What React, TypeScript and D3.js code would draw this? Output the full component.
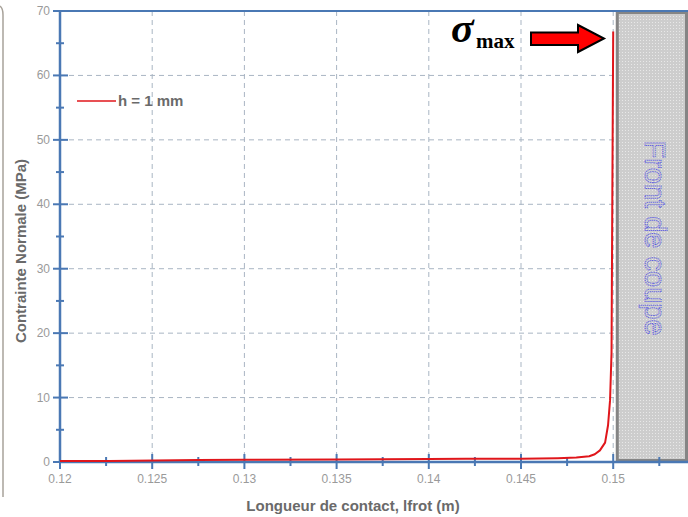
import React from "react";
import * as d3 from "d3";

const xMajorTicks = [0.12, 0.125, 0.13, 0.135, 0.14, 0.145, 0.15];
const xTickLabels = ["0.12", "0.125", "0.13", "0.135", "0.14", "0.145", "0.15"];
const xMinorTicks = [0.1225, 0.1275, 0.1325, 0.1375, 0.1425, 0.1475, 0.1525];
const yMajorTicks = [0, 10, 20, 30, 40, 50, 60, 70];
const yMinorTicks = [5, 15, 25, 35, 45, 55, 65];

const contactX = [0.12, 0.1227, 0.1275, 0.13, 0.135, 0.14, 0.142, 0.145, 0.147, 0.148, 0.1487, 0.149, 0.14928, 0.14956, 0.14972, 0.14983, 0.14991, 0.14995, 0.15];
const stressY = [0.15, 0.15, 0.3, 0.35, 0.4, 0.45, 0.5, 0.5, 0.6, 0.7, 0.9, 1.2, 1.8, 3.0, 5.7, 9.6, 17, 40, 66.8];

const legendLabel = "h = 1 mm";

export default function App() {
  const x = d3.scaleLinear().domain([0.12, 0.155]).range([60, 705.4]);
  const y = d3.scaleLinear().domain([0, 70]).range([462, 11]);
  const axisColor = "#4a78b4";
  const gridColor = "#a9b5c3";
  const data = contactX.map((v, i) => [v, stressY[i]] as [number, number]);
  const line = d3.line<[number, number]>().x(d => x(d[0])).y(d => y(d[1]));

  const rectX = x(0.15022);

  return (
    <svg width={688} height={517} style={{ position: "absolute", left: 0, top: 0, background: "#fff" }}>
      <defs>
        <pattern id="dots" width="3" height="3" patternUnits="userSpaceOnUse">
          <rect width="3" height="3" fill="#cdcdcd" />
          <rect x="1" y="1" width="1" height="1" fill="#e8e8e8" />
        </pattern>
      </defs>
      <rect width={688} height={517} fill="#fff" />
      {/* left frame edge */}
      <path d="M0,6 Q3,8 3,15 L3,497" fill="none" stroke="#a8a29a" strokeWidth={1.5} />

      {/* grid */}
      {xMajorTicks.slice(1).map(t => (
        <line key={"gx" + t} x1={x(t)} x2={x(t)} y1={11} y2={462} stroke={gridColor} strokeDasharray="5,4" strokeWidth={1} />
      ))}
      {yMajorTicks.slice(1, -1).map(t => (
        <line key={"gy" + t} x1={60} x2={688} y1={y(t)} y2={y(t)} stroke={gridColor} strokeDasharray="5,4" strokeWidth={1} />
      ))}

      {/* cutting front block */}
      <rect x={rectX} y={12.5} width={688 - rectX - 1.5} height={448} fill="url(#dots)" stroke="#858585" strokeWidth={3} />
      <text
        transform={`translate(645,238) rotate(90)`}
        textAnchor="middle"
        fontFamily="Liberation Sans, Arial, sans-serif"
        fontSize={29}
        fill="none"
        stroke="#5c5ce0"
        strokeWidth={1}
        strokeDasharray="1.2,0.8"
      >
        Front de coupe
      </text>

      {/* frame top */}
      <line x1={60} x2={688} y1={11} y2={11} stroke={axisColor} strokeWidth={2} />

      {/* axes */}
      <line x1={60} x2={60} y1={11} y2={462} stroke={axisColor} strokeWidth={2.5} />
      <line x1={60} x2={688} y1={462} y2={462} stroke={axisColor} strokeWidth={2.5} />
      {yMajorTicks.map(t => (
        <g key={"yt" + t}>
          <line x1={53} x2={68} y1={y(t)} y2={y(t)} stroke={axisColor} strokeWidth={2} />
          <text x={50} y={y(t) + 4} textAnchor="end" fontFamily="Liberation Sans, Arial, sans-serif" fontSize={12} fill="#9a9a9a">
            {t}
          </text>
        </g>
      ))}
      {yMinorTicks.map(t => (
        <line key={"ym" + t} x1={56} x2={64} y1={y(t)} y2={y(t)} stroke={axisColor} strokeWidth={2} />
      ))}
      {xMajorTicks.map((t, i) => (
        <g key={"xt" + t}>
          <line x1={x(t)} x2={x(t)} y1={454} y2={469} stroke={axisColor} strokeWidth={2} />
          <text x={x(t)} y={483} textAnchor="middle" fontFamily="Liberation Sans, Arial, sans-serif" fontSize={12} fill="#9a9a9a">
            {xTickLabels[i]}
          </text>
        </g>
      ))}
      {xMinorTicks.map(t => (
        <line key={"xm" + t} x1={x(t)} x2={x(t)} y1={457} y2={466} stroke={axisColor} strokeWidth={2} />
      ))}

      {/* data line */}
      <path d={line(data) || ""} fill="none" stroke="#e0161b" strokeWidth={2} strokeLinejoin="round" />

      {/* legend */}
      <line x1={77} x2={116} y1={101} y2={101} stroke="#e0161b" strokeWidth={1.5} />
      <text x={118} y={106} fontFamily="Liberation Sans, Arial, sans-serif" fontSize={15} fontWeight="bold" fill="#6a6a6a">
        {legendLabel}
      </text>

      {/* axis titles */}
      <text
        transform="translate(26,251) rotate(-90)"
        textAnchor="middle"
        fontFamily="Liberation Sans, Arial, sans-serif"
        fontSize={15}
        fontWeight="bold"
        fill="#6a6a6a"
      >
        Contrainte Normale (MPa)
      </text>
      <text x={353} y={511} textAnchor="middle" fontFamily="Liberation Sans, Arial, sans-serif" fontSize={15} fontWeight="bold" fill="#6a6a6a">
        Longueur de contact, lfrot (m)
      </text>

      {/* sigma max annotation */}
      <text x={451} y={42} fontFamily="Liberation Serif, Times New Roman, serif" fontSize={42} fontWeight="bold" fontStyle="italic" fill="#000">
        σ
      </text>
      <text x={476} y={48} fontFamily="Liberation Serif, Times New Roman, serif" fontSize={21} fontWeight="bold" fill="#000">
        max
      </text>
      <path d="M531,32.5 L578,32.5 L578,25 L604,38.5 L578,52 L578,45 L531,45 Z" fill="#ff0000" stroke="#000" strokeWidth={2} strokeLinejoin="miter" />
    </svg>
  );
}
